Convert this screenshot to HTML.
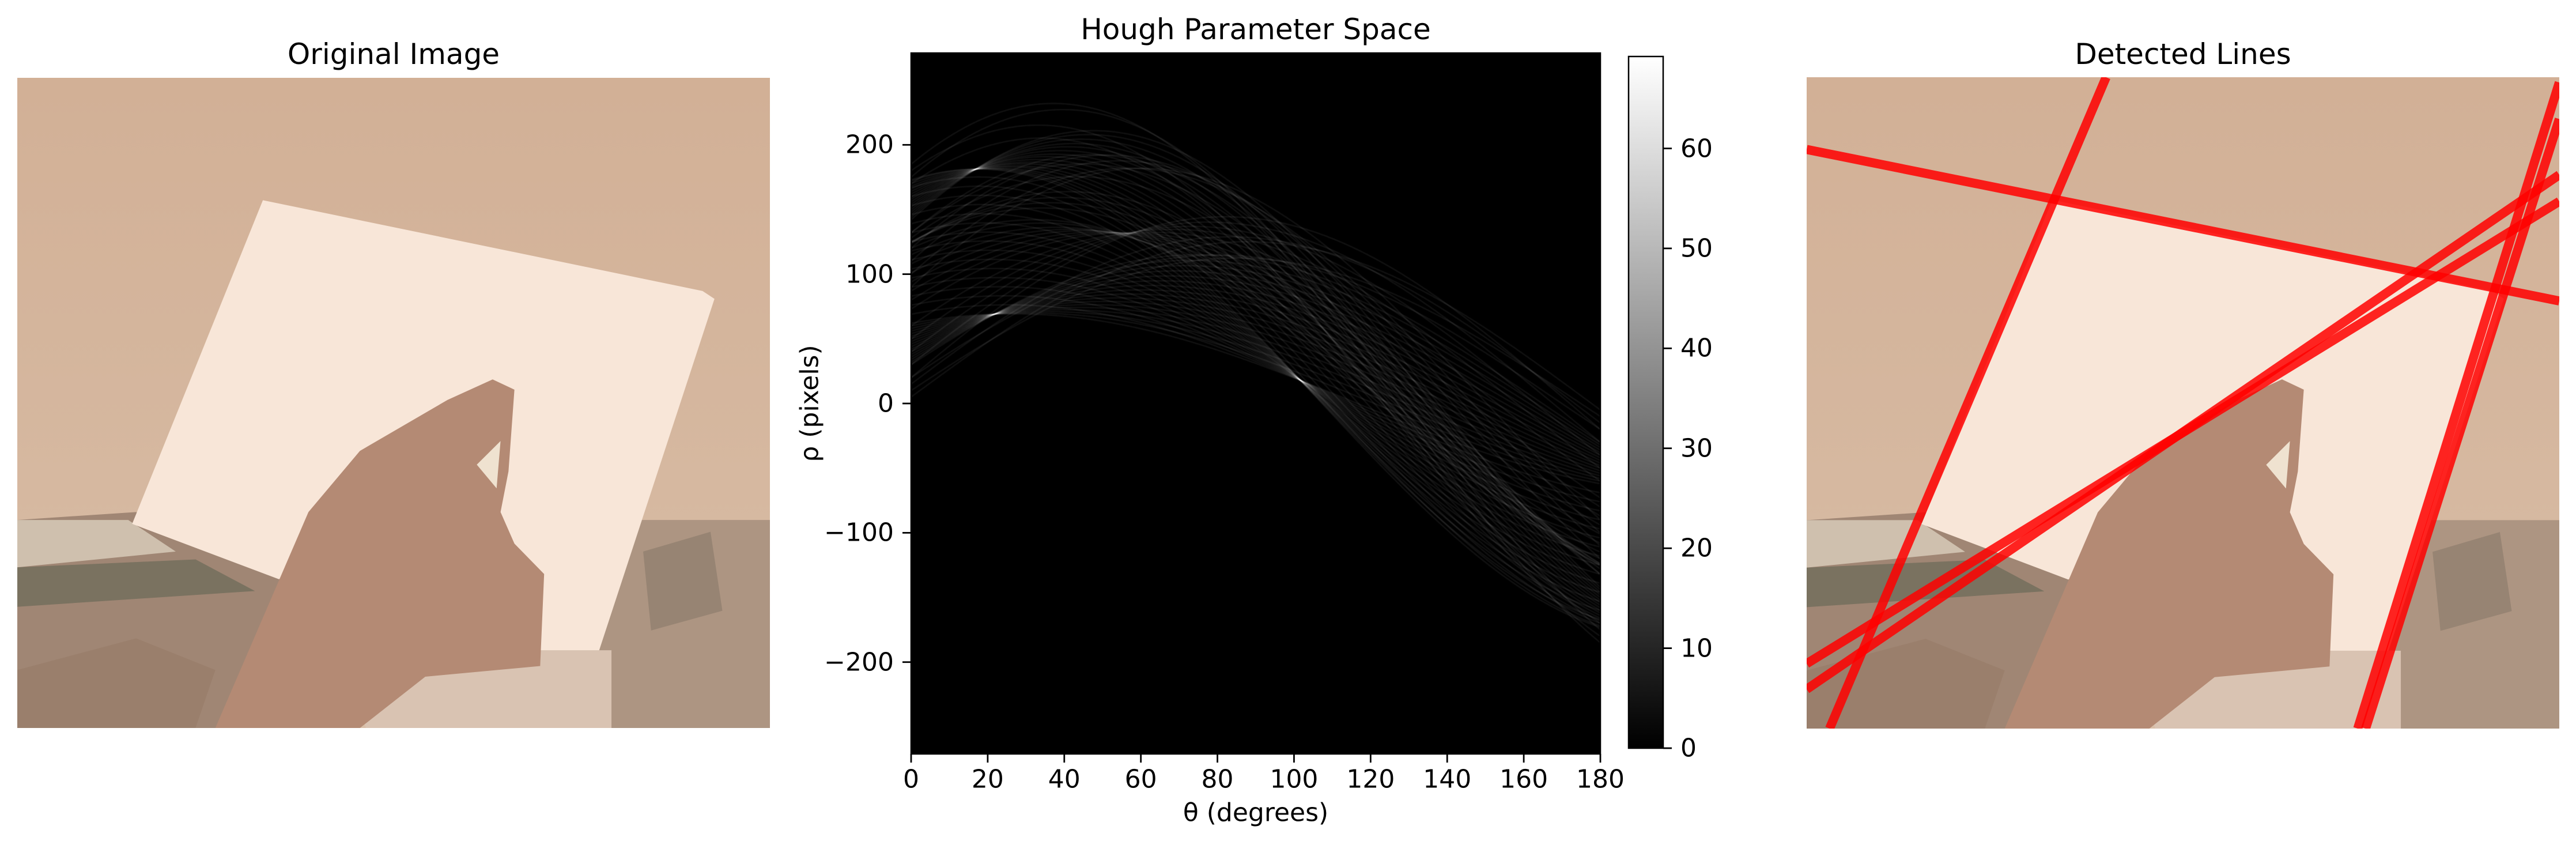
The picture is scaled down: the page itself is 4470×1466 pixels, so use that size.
<!DOCTYPE html>
<html><head><meta charset="utf-8">
<style>
html,body{margin:0;padding:0;background:#fff;width:4470px;height:1466px;overflow:hidden;}
#root{position:relative;width:4470px;height:1466px;overflow:hidden;font-family:"DejaVu Sans","Liberation Sans",sans-serif;color:#000;}
.title{position:absolute;font-size:50px;white-space:nowrap;transform:translate(-50%,-50%);}
.tl{position:absolute;font-size:44px;white-space:nowrap;}
.photo{position:absolute;overflow:hidden;}
</style></head>
<body>
<div id="root">
  <div class="title" style="left:683px;top:94px;">Original Image</div>
  <div class="title" style="left:2179px;top:51px;">Hough Parameter Space</div>
  <div class="title" style="left:3788px;top:94px;">Detected Lines</div>

  <svg class="photo" id="photoL" style="left:30px;top:135px;" width="1306" height="1128" viewBox="0 0 190 164.7" preserveAspectRatio="none"></svg>
  <svg class="photo" id="photoR" style="left:3135px;top:134px;" width="1306" height="1130" viewBox="0 0 190 164.7" preserveAspectRatio="none"></svg>

  <canvas id="hough" style="position:absolute;left:1581px;top:92px;" width="1196" height="1216"></canvas>
  <svg id="axes" style="position:absolute;left:0;top:0;" width="4470" height="1466"></svg>
  <div id="labels"></div>
  <div class="tl" style="left:1405px;top:700px;transform:translate(-50%,-50%) rotate(-90deg);">ρ (pixels)</div>
  <div class="tl" style="left:2179px;top:1410px;transform:translate(-50%,-50%);">θ (degrees)</div>
</div>
<script>
// ---- data ----
const edgeX = [62,69,76,83,90,97,104,111,118,125,132,139,146,153,160,167,173,
  60,58,56,54,52,50,48,46,44,42,40,38,36,34,32,30,
  172,170,168,166,164,162,160,158,156,154,152,150,148,146,144,142,
  73,80,87,94,101,108,115,120,60,50,40,30,20,
  125,125,124,124,128,132,132,
  10,20,5,15,170,180,185,175,100,110,120,90];
const edgeY = [31,32.5,34,35.5,37,38.5,40,41.5,43,44,45.5,47,48.5,50,51.3,52.8,54,
  36,41,46,51,56,61,66,71,76,81,86,91,96,101,106,111,
  58,64,70,77,83,90,96,103,110,116,123,130,136,143,150,156,
  110,105,100,95,89,83,79,76,118,125,131,137,143,
  85,92,100,107,120,130,140,
  112,113,125,128,115,118,140,145,152,152,150,158];
const peakTheta = [101.4, 22.97, 58.4, 55.6, 17.3, 17.6];
const peakRho = [17.9, 69.6, 126.3, 127.7, 181.8, 184.3];
const xTicks = [0,20,40,60,80,100,120,140,160,180];
const yTicks = [200,100,0,-100,-200];
const cbTicks = [0,10,20,30,40,50,60];
const rhoMax = 271, cbMax = 69.2;

// ---- axes geometry ----
const PX=1581, PY=92, PW=1196, PH=1216;
const xs = t => PX + t/180*PW;
const ys = r => PY + (rhoMax - r)/(2*rhoMax)*PH;
const CBX=2826, CBY=98, CBW=60, CBH=1200;
const cbs = v => CBY + CBH - v/cbMax*CBH;
const NS='http://www.w3.org/2000/svg';

// ---- hough curves ----
const cv=document.getElementById('hough'), ctx=cv.getContext('2d');
ctx.fillStyle='#000';ctx.fillRect(0,0,PW,PH);
ctx.globalCompositeOperation='lighter';
ctx.strokeStyle='rgba(255,255,255,0.065)';ctx.lineWidth=2.4;
for(let i=0;i<edgeX.length;i++){
  ctx.beginPath();
  for(let t=0;t<=180;t+=0.5){
    const a=t*Math.PI/180, r=edgeX[i]*Math.cos(a)+edgeY[i]*Math.sin(a);
    const x=xs(t)-PX, y=ys(r)-PY;
    if(t===0)ctx.moveTo(x,y);else ctx.lineTo(x,y);
  }
  ctx.stroke();
}

// ---- axes svg ----
const ax=document.getElementById('axes');
function el(tag,attrs,name){const e=document.createElementNS(NS,tag);for(const k in attrs)e.setAttribute(k,attrs[k]);
  
  
  ax.appendChild(e);return e;}
el('rect',{x:PX,y:PY,width:PW,height:PH,fill:'none',stroke:'#000','stroke-width':2.5},'plot-frame');
const lab=document.getElementById('labels');
function txt(s,x,y,tf,name){const d=document.createElement('div');d.className='tl';d.textContent=s;
  d.style.left=x+'px';d.style.top=y+'px';d.style.transform=tf;
  
  
  lab.appendChild(d);}
xTicks.forEach(t=>{
  el('line',{x1:xs(t),x2:xs(t),y1:PY+PH,y2:PY+PH+15,stroke:'#000','stroke-width':2.8},'x-tick');
  txt(String(t),xs(t),1352,'translate(-50%,-50%)','x-tick-label');
});
yTicks.forEach(r=>{
  el('line',{x1:PX-15,x2:PX,y1:ys(r),y2:ys(r),stroke:'#000','stroke-width':2.8},'y-tick');
  txt(String(r).replace('-','−'),1551,ys(r),'translate(-100%,-50%)','y-tick-label');
});
// colorbar
const defs=el('defs',{},'defs');
const g=document.createElementNS(NS,'linearGradient');g.setAttribute('id','cbg');g.setAttribute('x1','0');g.setAttribute('y1','1');g.setAttribute('x2','0');g.setAttribute('y2','0');
g.innerHTML='<stop offset="0" stop-color="#000"/><stop offset="1" stop-color="#fff"/>';defs.appendChild(g);
el('rect',{x:CBX,y:CBY,width:CBW,height:CBH,fill:'url(#cbg)',stroke:'#000','stroke-width':2.5},'colorbar');
cbTicks.forEach(v=>{
  el('line',{x1:CBX+CBW,x2:CBX+CBW+15,y1:cbs(v),y2:cbs(v),stroke:'#000','stroke-width':2.8},'colorbar-tick');
  txt(String(v),2916,cbs(v),'translate(0,-50%)','colorbar-tick-label');
});

// ---- photos ----
function drawPhoto(svg){
  svg.innerHTML=`
  <defs><linearGradient id="bg${svg.id}" x1="0" y1="0" x2="0" y2="1"><stop offset="0" stop-color="#d2b096"/><stop offset="1" stop-color="#d8bda6"/></linearGradient></defs>
  <rect x="0" y="0" width="190" height="164.7" fill="url(#bg${svg.id})"/>
  <polygon points="0,112 30,110 70,128 60,164.7 0,164.7" fill="#a08674"/>
  <polygon points="0,112 28,112 40,120 0,124" fill="#cfc0ae"/>
  <polygon points="0,124 45,122 60,130 0,134" fill="#7a7260"/>
  <polygon points="150,112 190,112 190,164.7 140,164.7" fill="#ad9582"/>
  <polygon points="158,120 175,115 178,135 160,140" fill="#978473"/>
  <polygon points="62,31 173,54 176,56 142,160 110,160 80,125 66,127 29,113" fill="#f8e6d8"/>
  <polygon points="82,145 150,145 150,164.7 88,164.7" fill="#d9c3b2"/>
  <polygon points="50,164.7 73.5,110 86.5,94.5 108.6,81.6 120,76.4 125.5,79 124,99.7 122,110 125.5,118 133,125.7 132,149 103,151.7 86.5,164.7" fill="#b48a74"/>
  <polygon points="0,150 30,142 50,150 45,164.7 0,164.7" fill="#9a7f6c"/>
  <polygon points="116,98 122,92 121,104" fill="#efe2d0"/>`;
}
const pL=document.getElementById('photoL'), pR=document.getElementById('photoR');
drawPhoto(pL);drawPhoto(pR);
// detected lines from peaks, clipped to image box
const IW=190, IH=164.7;
function clipLine(x0,y0,dx,dy){
  let t0=-1e9,t1=1e9;
  const p=[-dx,dx,-dy,dy], q=[x0,IW-x0,y0,IH-y0];
  for(let k=0;k<4;k++){
    if(Math.abs(p[k])<1e-9){ if(q[k]<0) return null; continue; }
    const r=q[k]/p[k];
    if(p[k]<0){ if(r>t0)t0=r; } else { if(r<t1)t1=r; }
  }
  if(t0>t1) return null;
  return [x0+t0*dx,y0+t0*dy,x0+t1*dx,y0+t1*dy];
}
for(let i=0;i<peakTheta.length;i++){
  const a=peakTheta[i]*Math.PI/180, c=Math.cos(a), s=Math.sin(a), r=peakRho[i];
  const seg=clipLine(r*c, r*s, -s, c);
  if(!seg) continue;
  const ln=document.createElementNS(NS,'line');
  ln.setAttribute('x1',seg[0]);ln.setAttribute('y1',seg[1]);
  ln.setAttribute('x2',seg[2]);ln.setAttribute('y2',seg[3]);
  ln.setAttribute('stroke','rgba(255,0,0,0.85)');ln.setAttribute('stroke-width','2.3');
  
  
  pR.appendChild(ln);
}
</script>
</body></html>
